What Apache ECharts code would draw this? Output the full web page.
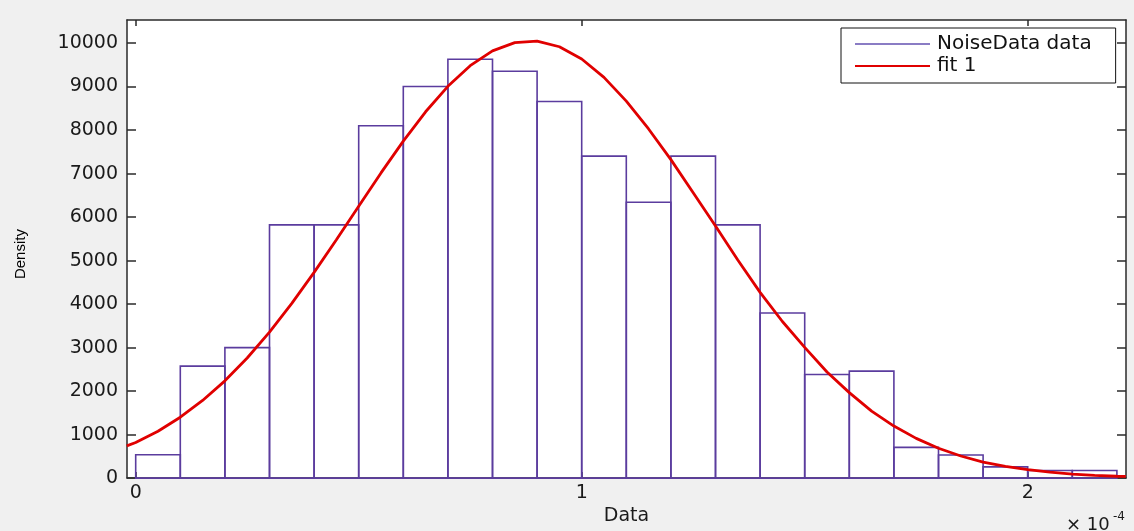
<!DOCTYPE html>
<html>
<head>
<meta charset="utf-8">
<title>NoiseData density</title>
<script src="https://cdn.jsdelivr.net/npm/echarts@6/dist/echarts.min.js"></script>
<style>
  html, body { margin: 0; padding: 0; background: #f0f0f0; }
  #chart { width: 1134px; height: 531px; }
</style>
</head>
<body>
<div id="chart"></div>
<script>
// Histogram bin edges (data units) and the density of each bin
const binEdges = [0, 0.1e-4, 0.2e-4, 0.3e-4, 0.4e-4, 0.5e-4, 0.6e-4, 0.7e-4, 0.8e-4, 0.9e-4,
  1.0e-4, 1.1e-4, 1.2e-4, 1.3e-4, 1.4e-4, 1.5e-4, 1.6e-4, 1.7e-4, 1.8e-4, 1.9e-4,
  2.0e-4, 2.1e-4, 2.2e-4];
const binDensity = [537, 2574, 2998, 5820, 5820, 8100, 9000, 9627, 9353, 8656,
  7400, 6340, 7400, 5820, 3795, 2383, 2460, 706, 530, 257, 173, 173];

// Fitted curve ("fit 1") sampled along the data axis
const fitX = [-0.02e-4, 0, 0.05e-4, 0.10e-4, 0.15e-4, 0.20e-4, 0.25e-4, 0.30e-4, 0.35e-4, 0.40e-4,
  0.45e-4, 0.50e-4, 0.55e-4, 0.60e-4, 0.65e-4, 0.70e-4, 0.75e-4, 0.80e-4, 0.85e-4, 0.90e-4,
  0.95e-4, 1.00e-4, 1.05e-4, 1.10e-4, 1.15e-4, 1.20e-4, 1.25e-4, 1.30e-4, 1.35e-4, 1.40e-4,
  1.45e-4, 1.50e-4, 1.55e-4, 1.60e-4, 1.65e-4, 1.70e-4, 1.75e-4, 1.80e-4, 1.85e-4, 1.90e-4,
  1.95e-4, 2.00e-4, 2.05e-4, 2.10e-4, 2.15e-4, 2.20e-4, 2.22e-4];
const fitY = [740, 817, 1076, 1400, 1785, 2236, 2761, 3357, 4017, 4729,
  5480, 6250, 7015, 7747, 8420, 9006, 9480, 9820, 10011, 10043,
  9915, 9633, 9211, 8666, 8025, 7320, 6558, 5795, 5015, 4270,
  3600, 3005, 2440, 1965, 1541, 1196, 913, 685, 508, 365,
  268, 195, 135, 92, 62, 42, 38];

// Axis ticks
const xTickValues = [0, 1e-4, 2e-4];
const yTickValues = [0, 1000, 2000, 3000, 4000, 5000, 6000, 7000, 8000, 9000, 10000];

const bins = binDensity.map((d, i) => [binEdges[i], binEdges[i + 1], d]);
const fitData = fitX.map((x, i) => [x, fitY[i]]);

const FONT = "'DejaVu Sans', 'Liberation Sans', sans-serif";
const LABEL_FONT = "'Liberation Sans', Arial, sans-serif";
const X_MIN = -0.0195e-4, X_MAX = 2.2204e-4;
const Y_MIN = 0, Y_MAX = 10530;

const chart = echarts.init(document.getElementById('chart'), null, { renderer: 'canvas' });

const axisLineStyle = { color: '#2a2a2a', width: 1.5 };

chart.setOption({
  backgroundColor: '#f0f0f0',
  animation: false,
  grid: {
    left: 127, right: 8, top: 20, bottom: 48,
    show: true, backgroundColor: '#ffffff', borderWidth: 0
  },
  xAxis: [
    {
      type: 'value', position: 'bottom', min: X_MIN, max: X_MAX,
      name: 'Data', nameLocation: 'middle', nameGap: 25,
      nameTextStyle: { fontFamily: FONT, fontSize: 19, color: '#1a1a1a' },
      axisLine: { show: true, onZero: false, lineStyle: axisLineStyle },
      axisTick: { show: true, inside: true, length: 6, customValues: xTickValues, lineStyle: axisLineStyle },
      axisLabel: {
        show: true, customValues: xTickValues, margin: 5,
        fontFamily: FONT, fontSize: 19, color: '#1a1a1a',
        formatter: v => String(Math.round(v * 1e4))
      },
      splitLine: { show: false }
    },
    {
      type: 'value', position: 'top', min: X_MIN, max: X_MAX,
      axisLine: { show: true, onZero: false, lineStyle: axisLineStyle },
      axisTick: { show: true, inside: true, length: 6, customValues: xTickValues, lineStyle: axisLineStyle },
      axisLabel: { show: false },
      splitLine: { show: false }
    }
  ],
  yAxis: [
    {
      type: 'value', position: 'left', min: Y_MIN, max: Y_MAX,
      name: 'Density', nameLocation: 'middle', nameGap: 99,
      nameTextStyle: { fontFamily: LABEL_FONT, fontSize: 15, color: '#000', padding: [0, 10, 0, 0] },
      axisLine: { show: true, onZero: false, lineStyle: axisLineStyle },
      axisTick: { show: true, inside: true, length: 9, customValues: yTickValues, lineStyle: axisLineStyle },
      axisLabel: {
        show: true, customValues: yTickValues, margin: 9,
        fontFamily: FONT, fontSize: 19, color: '#1a1a1a',
        formatter: v => String(v)
      },
      splitLine: { show: false }
    },
    {
      type: 'value', position: 'right', min: Y_MIN, max: Y_MAX,
      axisLine: { show: true, onZero: false, lineStyle: axisLineStyle },
      axisTick: { show: true, inside: true, length: 9, customValues: yTickValues, lineStyle: axisLineStyle },
      axisLabel: { show: false },
      splitLine: { show: false }
    }
  ],
  legend: {
    left: 841, top: 28,
    orient: 'vertical',
    icon: 'rect', itemWidth: 75, itemHeight: 2, itemGap: 2,
    padding: [6, 24, 7, 14],
    borderColor: '#111', borderWidth: 1, backgroundColor: '#ffffff',
    textStyle: { fontFamily: FONT, fontSize: 20, color: '#111', lineHeight: 18, padding: [0, 0, 0, 2] },
    data: [
      { name: 'NoiseData data', itemStyle: { color: '#8a7cc4' } },
      { name: 'fit 1', itemStyle: { color: '#e00000' } }
    ]
  },
  graphic: [
    {
      type: 'group', right: 9, bottom: -3,
      children: [
        { type: 'text', x: 0, y: 5, style: { text: '\u00d7 10', fontFamily: FONT, fontSize: 18, fill: '#1a1a1a' } },
        { type: 'text', x: 47, y: 0, style: { text: '-4', fontFamily: FONT, fontSize: 12, fill: '#1a1a1a' } }
      ]
    }
  ],
  series: [
    {
      name: 'NoiseData data',
      type: 'custom',
      xAxisIndex: 0, yAxisIndex: 0,
      itemStyle: { color: '#8a7cc4' },
      encode: { x: [0, 1], y: 2 },
      data: bins,
      renderItem: function (params, api) {
        const topLeft = api.coord([api.value(0), api.value(2)]);
        const bottomRight = api.coord([api.value(1), 0]);
        return {
          type: 'rect',
          shape: {
            x: topLeft[0], y: topLeft[1],
            width: bottomRight[0] - topLeft[0],
            height: bottomRight[1] - topLeft[1]
          },
          style: { fill: 'none', stroke: '#5b3c9e', lineWidth: 1.6 }
        };
      },
      z: 2
    },
    {
      name: 'fit 1',
      type: 'line',
      xAxisIndex: 0, yAxisIndex: 0,
      data: fitData,
      showSymbol: false,
      smooth: false,
      itemStyle: { color: '#e00000' },
      lineStyle: { color: '#e00000', width: 2.8 },
      z: 3
    }
  ]
});
</script>
</body>
</html>
